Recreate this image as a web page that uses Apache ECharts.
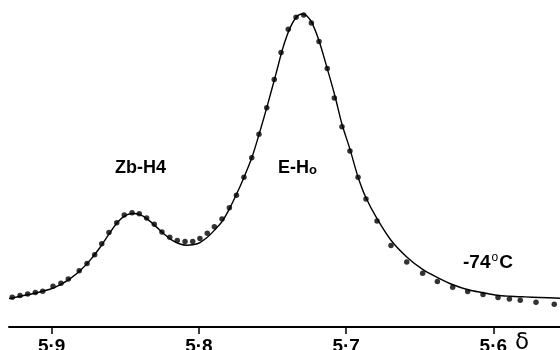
<!DOCTYPE html>
<html>
<head>
<meta charset="utf-8">
<script src="https://cdn.jsdelivr.net/npm/echarts@6/dist/echarts.min.js"></script>
<style>
  html, body { margin: 0; padding: 0; background: #fff; }
  #chart { width: 560px; height: 350px; }
</style>
</head>
<body>
<div id="chart"></div>
<script>
// chemical shift (ppm) and relative intensity of the measured points
var dotShift = [5.9268, 5.9215, 5.9163, 5.9111, 5.9061, 5.8991, 5.8937, 5.8887, 5.8813, 5.8760,
  5.8708, 5.8660, 5.8611, 5.8558, 5.8507, 5.8454, 5.8405, 5.8355, 5.8303, 5.8251,
  5.8198, 5.8147, 5.8094, 5.8042, 5.7993, 5.7943, 5.7895, 5.7843, 5.7793, 5.7745,
  5.7694, 5.7641, 5.7592, 5.7539, 5.7488, 5.7442, 5.7393, 5.7340, 5.7288, 5.7236,
  5.7184, 5.7128, 5.7080, 5.7028, 5.6974, 5.6919, 5.6865, 5.6790, 5.6695, 5.6588,
  5.6480, 5.6380, 5.6276, 5.6174, 5.6070, 5.5968, 5.5891, 5.5817, 5.5710, 5.5586];
var dotValue = [30, 31.7, 33.3, 34.7, 36, 41, 44, 48.3, 56.7, 64,
  72.7, 83.7, 95, 105, 112.7, 115, 114, 109.7, 103.3, 95.7,
  90.3, 87, 86, 86, 89, 94.3, 101, 108.7, 120, 132.5,
  150.7, 170.3, 194, 220.7, 249, 276.3, 299.7, 311.7, 314, 306,
  287.3, 260.2, 230.5, 201.5, 177, 150.8, 128.7, 106.7, 82, 65.3,
  54, 45.7, 40, 35.7, 32.7, 29.7, 28.3, 27, 25, 23];

// calculated line shape
var fitShift = [5.9290, 5.9215, 5.9113, 5.9012, 5.8944, 5.8876, 5.8808, 5.8740, 5.8672, 5.8604,
  5.8550, 5.8495, 5.8448, 5.8400, 5.8346, 5.8291, 5.8237, 5.8183, 5.8128, 5.8081,
  5.8033, 5.7993, 5.7945, 5.7897, 5.7843, 5.7796, 5.7748, 5.7694, 5.7639, 5.7585,
  5.7531, 5.7476, 5.7429, 5.7381, 5.7340, 5.7300, 5.7266, 5.7232, 5.7184, 5.7130,
  5.7075, 5.7028, 5.6974, 5.6919, 5.6865, 5.6790, 5.6695, 5.6588, 5.6480, 5.6382,
  5.6274, 5.6172, 5.6070, 5.5975, 5.5887, 5.5785, 5.5683, 5.5547];
var fitValue = [28.5, 31, 34, 38, 42.5, 48.5, 56.5, 67, 80, 95,
  106, 112.5, 114.2, 113, 108, 101, 93.5, 87.5, 83.5, 82.3,
  83, 85, 90, 97, 106, 118, 132.5, 150.5, 171, 197,
  225, 255, 281, 301, 311.5, 315, 313, 306, 288, 261,
  232, 204, 179, 151, 130, 109, 87.3, 70.5, 58, 50,
  42.5, 37.5, 34.5, 32, 31, 30.3, 29.7, 29];

var tickValues = [5.6, 5.7, 5.8, 5.9];

function zip(a, b) {
  return a.map(function (v, i) { return [v, b[i]]; });
}

var chart = echarts.init(document.getElementById('chart'));
var font = 'Liberation Sans, Arial, sans-serif';

var option = {
  backgroundColor: '#fff',
  animation: false,
  grid: { left: 9, right: 0, top: 9, bottom: 23, outerBoundsMode: 'none', containLabel: false },
  xAxis: {
    type: 'value',
    inverse: true,
    min: 5.5547,
    max: 5.9290,
    axisLine: { show: true, lineStyle: { color: '#000', width: 2 } },
    axisTick: { show: true, inside: false, length: 7, customValues: tickValues,
      lineStyle: { color: '#000', width: 1.5 } },
    axisLabel: {
      customValues: tickValues,
      margin: 10,
      color: '#000',
      fontFamily: font,
      fontWeight: 'bold',
      fontSize: 19,
      formatter: function (v) { return v.toFixed(1).replace('.', '·'); }
    },
    splitLine: { show: false }
  },
  yAxis: {
    type: 'value',
    min: 0,
    max: 320,
    show: false,
    splitLine: { show: false }
  },
  series: [
    {
      type: 'line',
      data: zip(fitShift, fitValue),
      smooth: 0.3,
      showSymbol: false,
      lineStyle: { color: '#000', width: 1.4 }
    },
    {
      type: 'scatter',
      data: zip(dotShift, dotValue),
      symbolSize: 5.5,
      itemStyle: { color: '#000' }
    }
  ],
  graphic: [
    { type: 'text', left: 115, top: 159,
      style: { text: 'Zb-H4', font: 'bold 18px ' + font, fill: '#000' } },
    { type: 'text', left: 278, top: 159,
      style: { text: '{a|E-H}{b|o}', font: 'bold 18px ' + font, fill: '#000',
        rich: { a: { fontFamily: font, fontWeight: 'bold', fontSize: 18 },
                b: { fontFamily: font, fontWeight: 'bold', fontSize: 13, padding: [5, 0, 0, 0] } } } },
    { type: 'text', left: 463, top: 252,
      style: { text: '{a|-74}{b|o}{a|C}', fill: '#000',
        rich: { a: { fontFamily: font, fontWeight: 'bold', fontSize: 19 },
                b: { fontFamily: font, fontSize: 12, padding: [0, 1, 9, 1] } } } },
    { type: 'text', left: 515, top: 332,
      style: { text: 'δ', font: '23px DejaVu Sans, sans-serif', fill: '#000' } }
  ]
};

chart.setOption(option);
</script>
</body>
</html>
